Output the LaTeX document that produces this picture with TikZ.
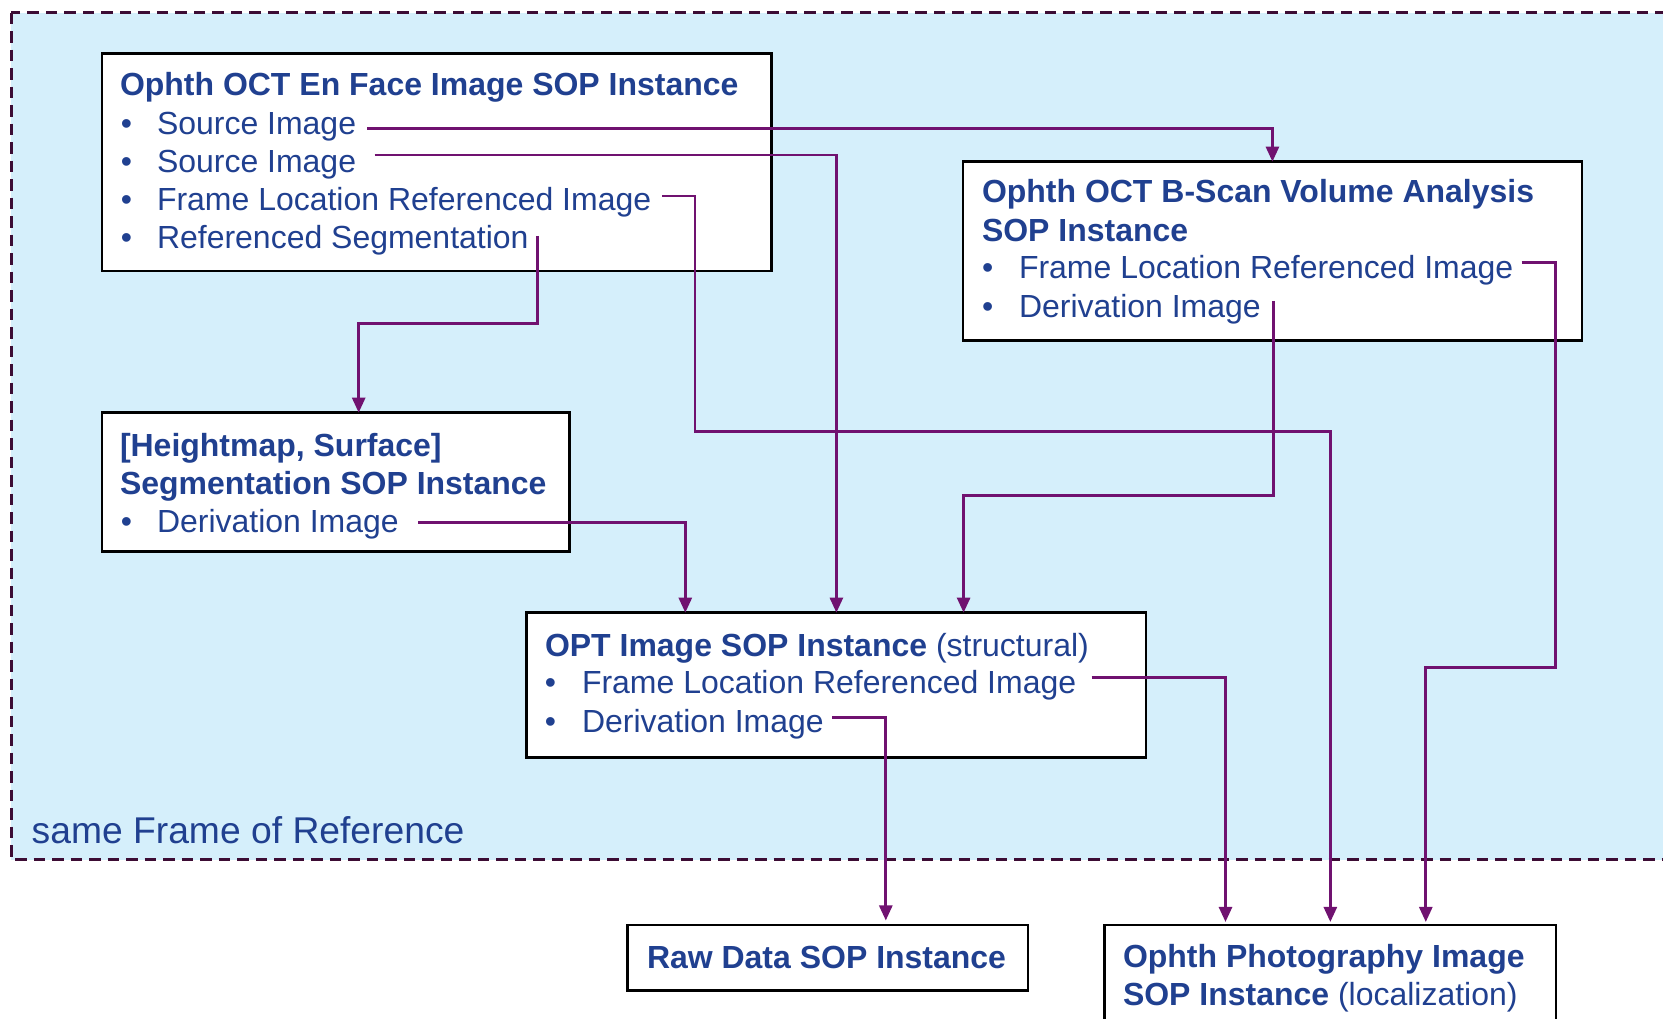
\documentclass[tikz,border=0pt]{standalone}
\usepackage{fontspec}
\setmainfont{Liberation Sans}
\usetikzlibrary{arrows.meta,calc}
\definecolor{tblue}{RGB}{32,64,144}
\definecolor{purp}{RGB}{112,18,112}
\definecolor{dashc}{RGB}{60,12,52}
\definecolor{frfill}{RGB}{213,239,251}
\tikzset{
 box/.style={draw=black, fill=white, line width=0.7pt, inner sep=0pt, outer sep=0pt},
 txt/.style={anchor=base west, inner sep=0pt, outer sep=0pt, text=tblue, font=\fontsize{9.1}{10.9}\selectfont, yshift=-0.12mm},
 ttl/.style={anchor=base west, inner sep=0pt, outer sep=0pt, text=tblue, font=\fontsize{9.1}{10.9}\selectfont\bfseries, yshift=-0.12mm},
 bul/.style={anchor=base, inner sep=0pt, outer sep=0pt, text=tblue, font=\fontsize{9.1}{10.9}\selectfont, yshift=-0.12mm},
 conn/.style={draw=purp, line width=0.75pt, -{Triangle[length=1.5mm,width=1.3mm]}},
 frame/.style={draw=dashc, fill=frfill, line width=0.85pt, dash pattern=on 1.15mm off 0.7mm},
}
\begin{document}
\begin{tikzpicture}[x=0.1mm,y=-0.1mm]
\useasboundingbox (0,0) rectangle (1663,1019);
\clip (0,0) rectangle (1663,1019);
% frame of reference
\draw[frame] (11.5,12.7) rectangle (1740,860);
\node[anchor=base west, inner sep=0pt, text=tblue, font=\fontsize{10.6}{12.7}\selectfont] (forlabel) at (31,843.5) {same Frame of Reference};

% boxes
\node[box, minimum width=66.94mm, minimum height=21.77mm] (enface) at (436.7,162.15) {};
\node[box, minimum width=61.91mm, minimum height=17.9mm] (bscan) at (1272.45,251.2) {};
\node[box, minimum width=46.74mm, minimum height=13.9mm] (seg) at (335.7,482.2) {};
\node[box, minimum width=61.94mm, minimum height=14.46mm] (opt) at (836.4,685) {};
\node[box, minimum width=40.06mm, minimum height=6.57mm] (raw) at (827.9,957.85) {};
\node[box, minimum width=45.17mm, minimum height=12mm] (photo) at (1330.35,985) {};

% En Face box text
\node[ttl] (t1) at (120,94.3) {Ophth OCT En Face Image SOP Instance};
\node[bul] (b1a) at (126.5,133) {\textbullet};
\node[bul] (b1b) at (126.5,171.5) {\textbullet};
\node[bul] (b1c) at (126.5,209.5) {\textbullet};
\node[bul] (b1d) at (126.5,247.5) {\textbullet};
\node[txt] (si1) at (157,133) {Source Image};
\node[txt] (si2) at (157,171.5) {Source Image};
\node[txt] (fl1) at (157,209.5) {Frame Location Referenced Image};
\node[txt] (rs) at (157,247.5) {Referenced Segmentation};

% B-Scan box text
\node[ttl] (t2a) at (982,201) {Ophth OCT B-Scan Volume Analysis};
\node[ttl] (t2b) at (982,240) {SOP Instance};
\node[bul] (b2a) at (987.7,277.7) {\textbullet};
\node[bul] (b2b) at (987.7,316.7) {\textbullet};
\node[txt] (fl2) at (1019,277.7) {Frame Location Referenced Image};
\node[txt] (bd) at (1019,316.7) {Derivation Image};

% Segmentation box text
\node[ttl] (t3a) at (120,455.3) {[Heightmap, Surface]};
\node[ttl] (t3b) at (120,493.5) {Segmentation SOP Instance};
\node[bul] (b3a) at (126.5,531) {\textbullet};
\node[txt] (sd) at (157,531) {Derivation Image};

% OPT box text
\node[ttl] (t4) at (545,655) {OPT Image SOP Instance \mdseries(structural)};
\node[bul] (b4a) at (550.4,692.6) {\textbullet};
\node[bul] (b4b) at (550.4,731) {\textbullet};
\node[txt] (of) at (582,692.6) {Frame Location Referenced Image};
\node[txt] (od) at (582,731) {Derivation Image};

% Raw data / Photography
\node[ttl] (t5) at (647,967) {Raw Data SOP Instance};
\node[ttl] (t6a) at (1123,966) {Ophth Photography Image};
\node[ttl] (t6b) at (1123,1004) {SOP Instance \mdseries(localization)};

% junction coordinates
\coordinate (j3) at (695,431.7);
\coordinate (j4) at (358.7,323.5);
\coordinate (j5a) at (1555.6,667.3);
\coordinate (j5b) at (1425.8,667.3);
\coordinate (j6b) at (963.6,495.3);
\coordinate (j7) at (685.3,0);
\coordinate (j8) at (1225.5,0);
\coordinate (j9) at (885.8,0);

% connectors
\draw[conn] ($(si1.base east)+(11,-5.5)$) -| (bscan.north);
\draw[conn] ($(si2.base east)+(18.5,-17.7)$) -| (opt.north);
\draw[conn, shorten >=0.3mm] ($(fl1.base east)+(11,-14.7)$) -| (j3) -| (photo.north);
\draw[conn] ($(rs.base east)+(9,-12.7)$) |- (j4) -- (j4 |- seg.north);
\draw[conn, shorten >=0.3mm] ($(fl2.base east)+(8.5,-16.6)$) -| (j5a) -- (j5b) -- (j5b |- photo.north);
\draw[conn] ($(bd.base east)+(13,-16.9)$) |- (j6b) -- (j6b |- opt.north);
\draw[conn] ($(sd.base east)+(19.5,-9.5)$) -| (j7 |- opt.north);
\draw[conn, shorten >=0.3mm] ($(of.base east)+(15.5,-16.5)$) -| (j8 |- photo.north);
\draw[conn, shorten >=0.45mm] ($(od.base east)+(8.5,-14.5)$) -| (j9 |- raw.north);
\end{tikzpicture}
\end{document}
